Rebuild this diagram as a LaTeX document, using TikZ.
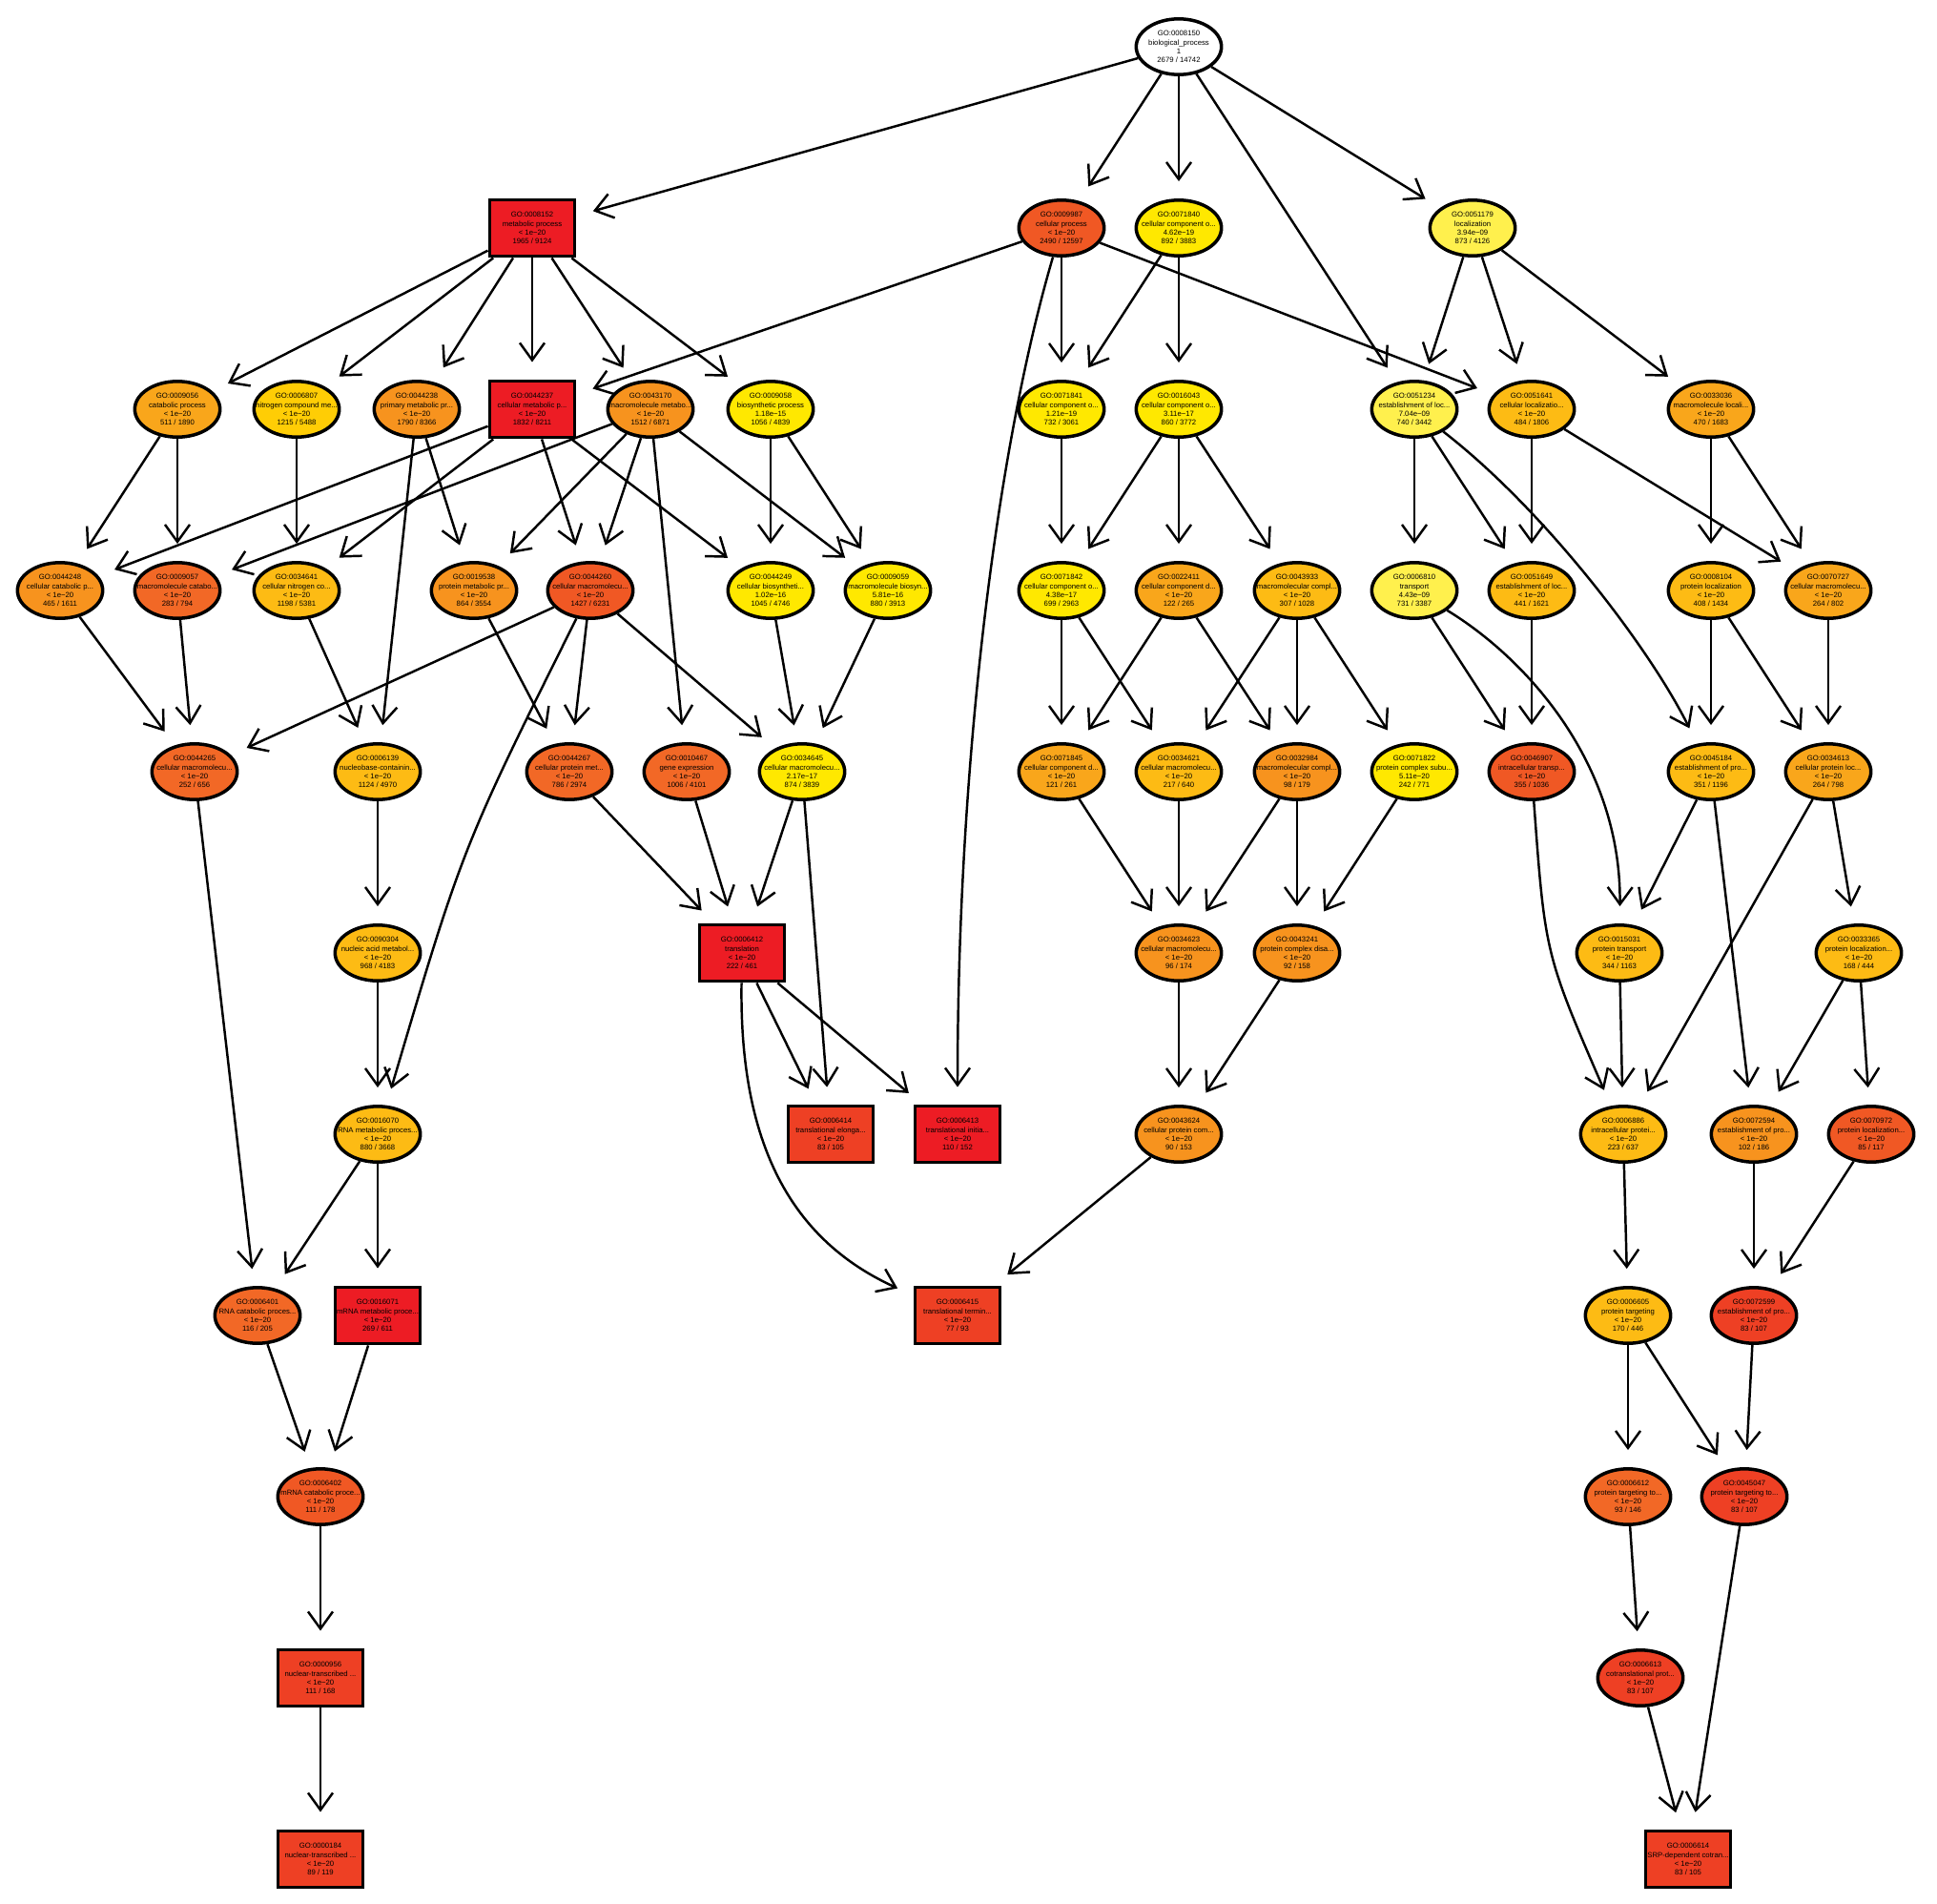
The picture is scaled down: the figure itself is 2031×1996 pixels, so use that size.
\documentclass[tikz,border=0pt]{standalone}
\usepackage{fontspec}
\setmainfont{Liberation Sans}
\usepackage{tikz}
\usetikzlibrary{shapes.geometric,arrows.meta}
\definecolor{cRed}{RGB}{237,28,36}
\definecolor{cRedOr}{RGB}{238,64,36}
\definecolor{cOrRed}{RGB}{240,88,36}
\definecolor{cDkOr}{RGB}{242,104,38}
\definecolor{cOrange}{RGB}{247,147,30}
\definecolor{cAmber}{RGB}{249,166,27}
\definecolor{cGold}{RGB}{253,187,20}
\definecolor{cGoldYel}{RGB}{255,205,5}
\definecolor{cYellow}{RGB}{255,232,0}
\definecolor{cPale}{RGB}{255,240,77}
\newcommand{\termfont}{\fontsize{11}{13}\selectfont}

\begin{document}
\begin{tikzpicture}[
    x=0.05cm, y=-0.05cm,
    term/.style={
        ellipse,
        draw,
        line width=5pt,
        align=center,
        font=\termfont,
        inner xsep=-1cm,
        inner ysep=-0.4cm,
        minimum width=4.47cm,
        minimum height=2.92cm
    },
    boxterm/.style={
        rectangle,
        draw,
        line width=5pt,
        align=center,
        font=\termfont,
        inner sep=0pt,
        minimum width=4.47cm,
        minimum height=2.97cm
    },
    arrow/.style={-{Straight Barb[length=0.9cm,width=1.3cm]}, line width=3.5pt, shorten >=0.9cm}
]
\useasboundingbox (0,0) rectangle (2031,1996);

% ROOT AND FIRST LEVEL
\node[term, fill=white] (g8150) at (1236,49)
{GO:0008150\\biological\_process\\1\\2679 / 14742};

\node[boxterm, fill=cRed] (g8152) at (558,239)
{GO:0008152\\metabolic process\\< 1e−20\\1965 / 9124};
\node[term, fill=cOrRed] (g9987) at (1113,239)
{GO:0009987\\cellular process\\< 1e−20\\2490 / 12597};
\node[term, fill=cYellow] (g71840) at (1236,239)
{GO:0071840\\cellular component o...\\4.62e−19\\892 / 3883};
\node[term, fill=cPale] (g51179) at (1544,239)
{GO:0051179\\localization\\3.94e−09\\873 / 4126};

% LEVEL 3
\node[term, fill=cAmber] (g9056) at (186,429)
{GO:0009056\\catabolic process\\< 1e−20\\511 / 1890};
\node[term, fill=cGoldYel] (g6807) at (311,429)
{GO:0006807\\nitrogen compound me...\\< 1e−20\\1215 / 5488};
\node[term, fill=cOrange] (g44238) at (437,429)
{GO:0044238\\primary metabolic pr...\\< 1e−20\\1790 / 8366};
\node[boxterm, fill=cRed] (g44237) at (558,429)
{GO:0044237\\cellular metabolic p...\\< 1e−20\\1832 / 8211};
\node[term, fill=cOrange] (g43170) at (682,429)
{GO:0043170\\macromolecule metabo...\\< 1e−20\\1512 / 6871};
\node[term, fill=cYellow] (g9058) at (808,429)
{GO:0009058\\biosynthetic process\\1.18e−15\\1056 / 4839};
\node[term, fill=cYellow] (g71841) at (1113,429)
{GO:0071841\\cellular component o...\\1.21e−19\\732 / 3061};
\node[term, fill=cYellow] (g16043) at (1236,429)
{GO:0016043\\cellular component o...\\3.11e−17\\860 / 3772};
\node[term, fill=cPale] (g51234) at (1483,429)
{GO:0051234\\establishment of loc...\\7.04e−09\\740 / 3442};
\node[term, fill=cGold] (g51641) at (1606,429)
{GO:0051641\\cellular localizatio...\\< 1e−20\\484 / 1806};
\node[term, fill=cAmber] (g33036) at (1794,429)
{GO:0033036\\macromolecule locali...\\< 1e−20\\470 / 1683};

% LEVEL 4
\node[term, fill=cOrange] (g44248) at (63,619)
{GO:0044248\\cellular catabolic p...\\< 1e−20\\465 / 1611};
\node[term, fill=cDkOr] (g9057) at (186,619)
{GO:0009057\\macromolecule catabo...\\< 1e−20\\283 / 794};
\node[term, fill=cGold] (g34641) at (311,619)
{GO:0034641\\cellular nitrogen co...\\< 1e−20\\1198 / 5381};
\node[term, fill=cOrange] (g19538) at (497,619)
{GO:0019538\\protein metabolic pr...\\< 1e−20\\864 / 3554};
\node[term, fill=cOrRed] (g44260) at (619,619)
{GO:0044260\\cellular macromolecu...\\< 1e−20\\1427 / 6231};
\node[term, fill=cYellow] (g44249) at (808,619)
{GO:0044249\\cellular biosyntheti...\\1.02e−16\\1045 / 4746};
\node[term, fill=cYellow] (g9059) at (931,619)
{GO:0009059\\macromolecule biosyn...\\5.81e−16\\880 / 3913};
\node[term, fill=cYellow] (g71842) at (1113,619)
{GO:0071842\\cellular component o...\\4.38e−17\\699 / 2963};
\node[term, fill=cAmber] (g22411) at (1236,619)
{GO:0022411\\cellular component d...\\< 1e−20\\122 / 265};
\node[term, fill=cGold] (g43933) at (1360,619)
{GO:0043933\\macromolecular compl...\\< 1e−20\\307 / 1028};
\node[term, fill=cPale] (g6810) at (1483,619)
{GO:0006810\\transport\\4.43e−09\\731 / 3387};
\node[term, fill=cGold] (g51649) at (1606,619)
{GO:0051649\\establishment of loc...\\< 1e−20\\441 / 1621};
\node[term, fill=cGold] (g8104) at (1794,619)
{GO:0008104\\protein localization\\< 1e−20\\408 / 1434};
\node[term, fill=cAmber] (g70727) at (1917,619)
{GO:0070727\\cellular macromolecu...\\< 1e−20\\264 / 802};

% LEVEL 5
\node[term, fill=cDkOr] (g44265) at (204,809)
{GO:0044265\\cellular macromolecu...\\< 1e−20\\252 / 656};
\node[term, fill=cGold] (g6139) at (396,809)
{GO:0006139\\nucleobase-containin...\\< 1e−20\\1124 / 4970};
\node[term, fill=cDkOr] (g44267) at (597,809)
{GO:0044267\\cellular protein met...\\< 1e−20\\786 / 2974};
\node[term, fill=cDkOr] (g10467) at (720,809)
{GO:0010467\\gene expression\\< 1e−20\\1006 / 4101};
\node[term, fill=cYellow] (g34645) at (841,809)
{GO:0034645\\cellular macromolecu...\\2.17e−17\\874 / 3839};
\node[term, fill=cAmber] (g71845) at (1113,809)
{GO:0071845\\cellular component d...\\< 1e−20\\121 / 261};
\node[term, fill=cGold] (g34621) at (1236,809)
{GO:0034621\\cellular macromolecu...\\< 1e−20\\217 / 640};
\node[term, fill=cOrange] (g32984) at (1360,809)
{GO:0032984\\macromolecular compl...\\< 1e−20\\98 / 179};
\node[term, fill=cYellow] (g71822) at (1483,809)
{GO:0071822\\protein complex subu...\\5.11e−20\\242 / 771};
\node[term, fill=cOrRed] (g46907) at (1606,809)
{GO:0046907\\intracellular transp...\\< 1e−20\\355 / 1036};
\node[term, fill=cGold] (g45184) at (1794,809)
{GO:0045184\\establishment of pro...\\< 1e−20\\351 / 1196};
\node[term, fill=cAmber] (g34613) at (1917,809)
{GO:0034613\\cellular protein loc...\\< 1e−20\\264 / 798};

% LEVEL 6
\node[term, fill=cGold] (g90304) at (396,999)
{GO:0090304\\nucleic acid metabol...\\< 1e−20\\968 / 4183};
\node[boxterm, fill=cRed] (g6412) at (778,999)
{GO:0006412\\translation\\< 1e−20\\222 / 461};
\node[term, fill=cOrange] (g34623) at (1236,999)
{GO:0034623\\cellular macromolecu...\\< 1e−20\\96 / 174};
\node[term, fill=cOrange] (g43241) at (1360,999)
{GO:0043241\\protein complex disa...\\< 1e−20\\92 / 158};
\node[term, fill=cGold] (g15031) at (1698,999)
{GO:0015031\\protein transport\\< 1e−20\\344 / 1163};
\node[term, fill=cGold] (g33365) at (1949,999)
{GO:0033365\\protein localization...\\< 1e−20\\168 / 444};

% LEVEL 7
\node[term, fill=cGold] (g16070) at (396,1189)
{GO:0016070\\RNA metabolic proces...\\< 1e−20\\880 / 3668};
\node[boxterm, fill=cRedOr] (g6414) at (871,1189)
{GO:0006414\\translational elonga...\\< 1e−20\\83 / 105};
\node[boxterm, fill=cRed] (g6413) at (1004,1189)
{GO:0006413\\translational initia...\\< 1e−20\\110 / 152};
\node[term, fill=cOrange] (g43624) at (1236,1189)
{GO:0043624\\cellular protein com...\\< 1e−20\\90 / 153};
\node[term, fill=cGold] (g6886) at (1702,1189)
{GO:0006886\\intracellular protei...\\< 1e−20\\223 / 637};
\node[term, fill=cOrange] (g72594) at (1839,1189)
{GO:0072594\\establishment of pro...\\< 1e−20\\102 / 186};
\node[term, fill=cOrRed] (g70972) at (1962,1189)
{GO:0070972\\protein localization...\\< 1e−20\\85 / 117};

% LEVEL 8
\node[term, fill=cDkOr] (g6401) at (270,1379)
{GO:0006401\\RNA catabolic proces...\\< 1e−20\\116 / 205};
\node[boxterm, fill=cRed] (g16071) at (396,1379)
{GO:0016071\\mRNA metabolic proce...\\< 1e−20\\269 / 611};
\node[boxterm, fill=cRedOr] (g6415) at (1004,1379)
{GO:0006415\\translational termin...\\< 1e−20\\77 / 93};
\node[term, fill=cGold] (g6605) at (1707,1379)
{GO:0006605\\protein targeting\\< 1e−20\\170 / 446};
\node[term, fill=cRedOr] (g72599) at (1839,1379)
{GO:0072599\\establishment of pro...\\< 1e−20\\83 / 107};

% LEVELS 9 TO 11
\node[term, fill=cOrRed] (g6402) at (336,1569)
{GO:0006402\\mRNA catabolic proce...\\< 1e−20\\111 / 178};
\node[term, fill=cDkOr] (g6612) at (1707,1569)
{GO:0006612\\protein targeting to...\\< 1e−20\\93 / 146};
\node[term, fill=cRedOr] (g45047) at (1829,1569)
{GO:0045047\\protein targeting to...\\< 1e−20\\83 / 107};
\node[boxterm, fill=cRedOr] (g956) at (336,1759)
{GO:0000956\\nuclear-transcribed ...\\< 1e−20\\111 / 168};
\node[term, fill=cRedOr] (g6613) at (1720,1759)
{GO:0006613\\cotranslational prot...\\< 1e−20\\83 / 107};
\node[boxterm, fill=cRedOr] (g184) at (336,1949)
{GO:0000184\\nuclear-transcribed ...\\< 1e−20\\89 / 119};
\node[boxterm, fill=cRedOr] (g6614) at (1770,1949)
{GO:0006614\\SRP-dependent cotran...\\< 1e−20\\83 / 105};

% EDGES FROM THE TOP
\draw[arrow] (g8150) -- (g8152);
\draw[arrow] (g8150) -- (g9987);
\draw[arrow] (g8150) -- (g71840);
\draw[arrow] (g8150) -- (g51234);
\draw[arrow] (g8150) -- (g51179);

\draw[arrow] (g8152) -- (g9056);
\draw[arrow] (g8152) -- (g6807);
\draw[arrow] (g8152) -- (g44238);
\draw[arrow] (g8152) -- (g44237);
\draw[arrow] (g8152) -- (g43170);
\draw[arrow] (g8152) -- (g9058);
\draw[arrow] (g9987) -- (g44237);
\draw[arrow] (g9987) -- (g71841);
\draw[arrow] (g9987) -- (g51641);
\draw[arrow] (g9987) .. controls (1045,470) and (1004,800) .. (g6413);
\draw[arrow] (g71840) -- (g71841);
\draw[arrow] (g71840) -- (g16043);
\draw[arrow] (g51179) -- (g51234);
\draw[arrow] (g51179) -- (g51641);
\draw[arrow] (g51179) -- (g33036);

% METABOLIC SIDE
\draw[arrow] (g9056) -- (g44248);
\draw[arrow] (g9056) -- (g9057);
\draw[arrow] (g6807) -- (g34641);
\draw[arrow] (g44238) -- (g19538);
\draw[arrow] (g44238) -- (g6139);
\draw[arrow] (g44237) -- (g44248);
\draw[arrow] (g44237) -- (g34641);
\draw[arrow] (g44237) -- (g44260);
\draw[arrow] (g44237) -- (g44249);
\draw[arrow] (g43170) -- (g9057);
\draw[arrow] (g43170) -- (g19538);
\draw[arrow] (g43170) -- (g44260);
\draw[arrow] (g43170) -- (g10467);
\draw[arrow] (g43170) -- (g9059);
\draw[arrow] (g9058) -- (g44249);
\draw[arrow] (g9058) -- (g9059);

\draw[arrow] (g44248) -- (g44265);
\draw[arrow] (g9057) -- (g44265);
\draw[arrow] (g34641) -- (g6139);
\draw[arrow] (g19538) -- (g44267);
\draw[arrow] (g44260) -- (g44265);
\draw[arrow] (g44260) -- (g44267);
\draw[arrow] (g44260) -- (g34645);
\draw[arrow] (g44260) .. controls (485,888) .. (g16070);
\draw[arrow] (g44249) -- (g34645);
\draw[arrow] (g9059) -- (g34645);

\draw[arrow] (g44265) -- (g6401);
\draw[arrow] (g6139) -- (g90304);
\draw[arrow] (g44267) -- (g6412);
\draw[arrow] (g10467) -- (g6412);
\draw[arrow] (g34645) -- (g6412);
\draw[arrow] (g34645) -- (g6414);
\draw[arrow] (g90304) -- (g16070);
\draw[arrow] (g6412) -- (g6414);
\draw[arrow] (g6412) -- (g6413);
\draw[arrow] (g6412) .. controls (775,1200) and (830,1300) .. (g6415);
\draw[arrow] (g16070) -- (g6401);
\draw[arrow] (g16070) -- (g16071);
\draw[arrow] (g6401) -- (g6402);
\draw[arrow] (g16071) -- (g6402);
\draw[arrow] (g6402) -- (g956);
\draw[arrow] (g956) -- (g184);

% COMPONENT ORGANIZATION
\draw[arrow] (g71841) -- (g71842);
\draw[arrow] (g16043) -- (g71842);
\draw[arrow] (g16043) -- (g22411);
\draw[arrow] (g16043) -- (g43933);
\draw[arrow] (g71842) -- (g71845);
\draw[arrow] (g71842) -- (g34621);
\draw[arrow] (g22411) -- (g71845);
\draw[arrow] (g22411) -- (g32984);
\draw[arrow] (g43933) -- (g34621);
\draw[arrow] (g43933) -- (g32984);
\draw[arrow] (g43933) -- (g71822);
\draw[arrow] (g71845) -- (g34623);
\draw[arrow] (g34621) -- (g34623);
\draw[arrow] (g32984) -- (g34623);
\draw[arrow] (g32984) -- (g43241);
\draw[arrow] (g71822) -- (g43241);
\draw[arrow] (g34623) -- (g43624);
\draw[arrow] (g43241) -- (g43624);
\draw[arrow] (g43624) -- (g6415);

% LOCALIZATION
\draw[arrow] (g51234) -- (g6810);
\draw[arrow] (g51234) -- (g51649);
\draw[arrow] (g51234) .. controls (1620,535) and (1730,680) .. (g45184);
\draw[arrow] (g51641) -- (g51649);
\draw[arrow] (g51641) -- (g70727);
\draw[arrow] (g33036) -- (g8104);
\draw[arrow] (g33036) -- (g70727);
\draw[arrow] (g6810) -- (g46907);
\draw[arrow] (g6810) .. controls (1600,690) and (1700,800) .. (g15031);
\draw[arrow] (g51649) -- (g46907);
\draw[arrow] (g8104) -- (g45184);
\draw[arrow] (g8104) -- (g34613);
\draw[arrow] (g70727) -- (g34613);
\draw[arrow] (g46907) .. controls (1620,1000) .. (g6886);
\draw[arrow] (g45184) -- (g15031);
\draw[arrow] (g45184) -- (g72594);
\draw[arrow] (g34613) -- (g6886);
\draw[arrow] (g34613) -- (g33365);
\draw[arrow] (g15031) -- (g6886);
\draw[arrow] (g33365) -- (g72594);
\draw[arrow] (g33365) -- (g70972);
\draw[arrow] (g6886) -- (g6605);
\draw[arrow] (g72594) -- (g72599);
\draw[arrow] (g70972) -- (g72599);
\draw[arrow] (g6605) -- (g6612);
\draw[arrow] (g6605) -- (g45047);
\draw[arrow] (g72599) -- (g45047);
\draw[arrow] (g6612) -- (g6613);
\draw[arrow] (g45047) -- (g6614);
\draw[arrow] (g6613) -- (g6614);

\end{tikzpicture}
\end{document}
